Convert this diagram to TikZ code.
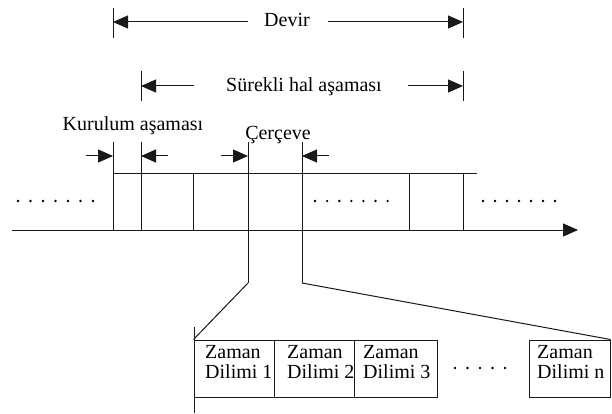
\documentclass[tikz,border=0pt]{standalone}
\usepackage{fontspec}
\setmainfont{Liberation Serif}
\usetikzlibrary{arrows.meta}
\begin{document}
\begin{tikzpicture}[x=1pt,y=-1pt,
  ln/.style={line width=1pt, draw=black!90},
  tipped/.style={ln, -{Triangle[length=15pt,width=13pt]}},
  lbl/.style={font=\fontsize{20}{20}\selectfont, inner sep=0pt, anchor=base},
  txt/.style={font=\fontsize{20}{20}\selectfont, inner sep=0pt, align=left, anchor=base west},
  slot/.style={draw=black!90, line width=1pt, minimum height=57pt, inner sep=0pt}
]
\fill[white] (0,0) rectangle (612,414);
\useasboundingbox (0,0) rectangle (612,414);

% Devir
\node[lbl] (devir) at (287,27) {Devir};
\coordinate (dLt) at (113,8);  \coordinate (dLb) at (113,38);
\coordinate (dRt) at (463,8);  \coordinate (dRb) at (463,38);
\coordinate (dL) at (113,22);  \coordinate (dR) at (463,22);
\coordinate (dA) at (248,22);  \coordinate (dB) at (328,22);
\draw[ln] (dLt) -- (dLb);
\draw[ln] (dRt) -- (dRb);
\draw[tipped] (dA) -- (dL);
\draw[tipped] (dB) -- (dR);

% Surekli hal asamasi
\node[lbl] (surekli) at (304,92) {Sürekli hal aşaması};
\coordinate (sLt) at (141,71);  \coordinate (sLb) at (141,101);
\coordinate (sRt) at (463,71);  \coordinate (sRb) at (463,101);
\coordinate (sL) at (141,86);   \coordinate (sR) at (463,86);
\coordinate (sA) at (194,86);   \coordinate (sB) at (408,86);
\draw[ln] (sLt) -- (sLb);
\draw[ln] (sRt) -- (sRb);
\draw[tipped] (sA) -- (sL);
\draw[tipped] (sB) -- (sR);

% labels
\node[lbl] (kurulum) at (133,131) {Kurulum aşaması};
\node[lbl] (cerceve) at (278,140) {Çerçeve};

% small arrows
\coordinate (k1) at (86,156);  \coordinate (k1e) at (113,156);
\coordinate (k2) at (168,156); \coordinate (k2e) at (141,156);
\coordinate (c1) at (221,156); \coordinate (c1e) at (248,156);
\coordinate (c2) at (329,156); \coordinate (c2e) at (302,156);
\draw[tipped] (k1) -- (k1e);
\draw[tipped] (k2) -- (k2e);
\draw[tipped] (c1) -- (c1e);
\draw[tipped] (c2) -- (c2e);

% time axis
\coordinate (ax0) at (12,230); \coordinate (ax1) at (578,230);
\draw[ln, -{Triangle[length=15pt,width=13pt]}] (ax0) -- (ax1);
\coordinate (top0) at (113,173); \coordinate (top1) at (477,173);
\draw[ln] (top0) -- (top1);

% verticals
\draw[ln] (113,142) coordinate (v1t) -- (113,230) coordinate (v1b);
\draw[ln] (141,142) coordinate (v2t) -- (141,230) coordinate (v2b);
\draw[ln] (193,173) coordinate (v3t) -- (193,230) coordinate (v3b);
\draw[ln] (248,142) coordinate (v4t) -- (248,283) coordinate (v4b);
\draw[ln] (302,142) coordinate (v5t) -- (302,283) coordinate (v5b);
\draw[ln] (409,173) coordinate (v6t) -- (409,230) coordinate (v6b);
\draw[ln] (463,173) coordinate (v7t) -- (463,230) coordinate (v7b);

% dots on the axis
\foreach \i in {0,...,6} {
  \fill (18+12.5*\i,201) circle (1.3pt);
  \fill (315+12.1*\i,201) circle (1.3pt);
  \fill (483+12*\i,201) circle (1.3pt);
}

% slots
\node[slot, minimum width=80pt] (s1) at (234,368.5) {};
\node[slot, minimum width=80pt] (s2) at (314,368.5) {};
\node[slot, minimum width=83pt] (s3) at (395.5,368.5) {};
\node[slot, minimum width=81pt] (sn) at (569.5,368.5) {};
\node[txt] (t1) at (205,378) {Zaman\\Dilimi 1};
\node[txt] (t2) at (287,378) {Zaman\\Dilimi 2};
\node[txt] (t3) at (363,378) {Zaman\\Dilimi 3};
\node[txt] (tn) at (537,378) {Zaman\\Dilimi n};
\foreach \i in {0,...,4} {
  \fill (455+12.5*\i,368) circle (1.3pt);
}

% zoom lines
\coordinate (z0) at (194,327); \coordinate (z1) at (194,413);
\draw[ln] (z0) -- (z1);
\draw[ln] (v4b) -- (s1.north west);
\draw[ln] (v5b) -- (sn.north east);
\end{tikzpicture}
\end{document}
